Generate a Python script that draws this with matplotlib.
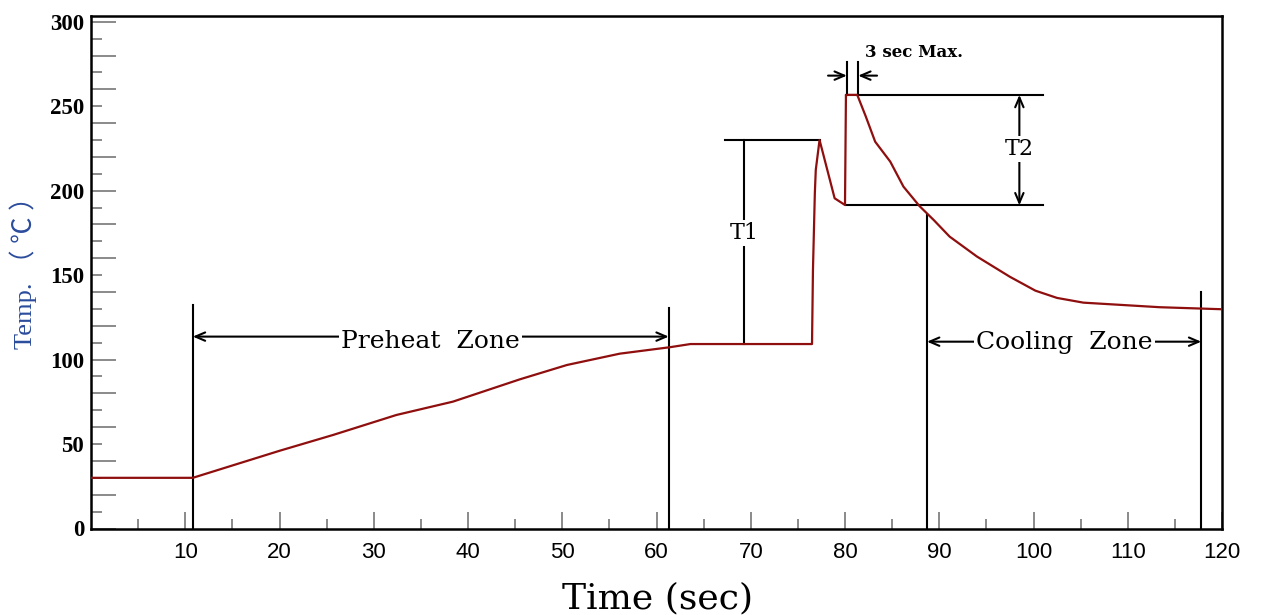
import matplotlib.pyplot as plt

# reflow profile (time in sec, temp in deg C)
time_s = [0, 10.8, 20.0, 25.7, 32.4, 38.4, 45.5, 50.5, 56.1, 61.4, 63.6,
          76.5, 76.6, 76.8, 76.9, 77.3, 78.4, 78.9, 80.0, 80.1, 81.3,
          82.2, 83.2, 84.8, 86.2, 87.9, 89.4, 91.1, 94.0, 97.5,
          100.2, 102.5, 105.3, 113.4, 120]
temp_c = [30, 30, 46, 55.4, 67.2, 75.1, 88.3, 96.8, 103.5, 107.3, 109.2,
          109.2, 153, 198.5, 212.3, 230, 206.3, 195.5, 191.5, 256.7, 256.7,
          244, 229, 217.2, 202.4, 190.9, 182.7, 172.8, 161, 149,
          140.8, 136.5, 133.7, 131, 129.8]

x_ticks = list(range(10, 121, 10))
x_minor = list(range(5, 120, 10))
y_labels = list(range(0, 301, 50))
y_long = list(range(0, 301, 20))
y_short = list(range(10, 301, 20))

# annotation positions (data units)
preheat = (10.8, 61.3)
preheat_tops = (132.3, 130.4)
preheat_arrow = 113.6
cooling = (88.7, 117.8)
cooling_tops = (185.6, 140.2)
cooling_arrow = 110.6
t1_x, t1_span, t1_top, t1_base, t1_text = 69.3, (67.3, 77.3), 230, 109.2, 175
t2_x, t2_span, t2_top, t2_low, t2_text = 98.5, (80.1, 101.0), 256.7, 191.3, 224.5
peak = (80.2, 81.4)
peak_top, peak_arrow, peak_tails = 276.4, 268.1, (78.2, 83.4)

CURVE = '#8f0e0e'
TICK = '#777777'

fig = plt.figure(figsize=(12.64, 6.15), dpi=100)
ax = fig.add_axes([91 / 1264, 1 - 528.5 / 615, (1222 - 91) / 1264, (528.5 - 16) / 615])
ax.set_xlim(0, 120)
ax.set_ylim(0, 303.4)

ax.plot(time_s, temp_c, color=CURVE, lw=1.6, zorder=3)


def vline(x, y0, y1):
    ax.plot([x, x], [y0, y1], color='k', lw=1.5, zorder=2)


def hline(y, x0, x1):
    ax.plot([x0, x1], [y, y], color='k', lw=1.5, zorder=2)


def arrow(x0, y0, x1, y1, style='<->'):
    ax.annotate('', xy=(x1, y1), xytext=(x0, y0),
                arrowprops=dict(arrowstyle=style + ',head_length=0.7,head_width=0.3',
                                color='k', lw=1.5, shrinkA=0, shrinkB=0))


def label(x, y, s, size=18):
    ax.text(x, y, s, ha='center', va='center', fontsize=size, family='DejaVu Serif',
            bbox=dict(facecolor='white', edgecolor='none', pad=1.5), zorder=4)


# preheat zone
vline(preheat[0], 0, preheat_tops[0])
vline(preheat[1], 0, preheat_tops[1])
arrow(preheat[0], preheat_arrow, preheat[1], preheat_arrow)
label(sum(preheat) / 2, preheat_arrow - 3, 'Preheat  Zone')

# cooling zone
vline(cooling[0], 0, cooling_tops[0])
vline(cooling[1], 0, cooling_tops[1])
arrow(cooling[0], cooling_arrow, cooling[1], cooling_arrow)
label(103.3, cooling_arrow - 0.5, 'Cooling  Zone')

# T1
hline(t1_top, *t1_span)
vline(t1_x, t1_base, t1_top)
label(t1_x, t1_text, 'T1', size=16)

# T2
hline(t2_top, *t2_span)
hline(t2_low, *t2_span)
arrow(t2_x, t2_low, t2_x, t2_top)
label(t2_x, t2_text, 'T2', size=16)

# 3 sec max
vline(peak[0], t2_top, peak_top)
vline(peak[1], t2_top, peak_top)
arrow(peak_tails[0], peak_arrow, peak[0], peak_arrow, style='->')
arrow(peak_tails[1], peak_arrow, peak[1], peak_arrow, style='->')
ax.text(82.1, 281.7, '3 sec Max.', ha='left', va='center', fontsize=12,
        family='DejaVu Serif', fontweight='bold')

# axes styling
for sp in ax.spines.values():
    sp.set_linewidth(1.8)

ax.set_xticks(x_ticks)
ax.set_xticklabels([str(v) for v in x_ticks], family='Liberation Sans', fontsize=16)
ax.set_xticks(x_minor, minor=True)
ax.tick_params(axis='x', which='major', direction='in', length=12, width=1.2, color=TICK, pad=10)
ax.tick_params(axis='x', which='minor', direction='in', length=7, width=1.2, color=TICK)

ax.set_yticks(y_long)
ax.set_yticks(y_short, minor=True)
ax.tick_params(axis='y', which='major', direction='in', length=18, width=1.2, color=TICK,
               labelleft=False)
ax.tick_params(axis='y', which='minor', direction='in', length=8, width=1.2, color=TICK)

sec = ax.secondary_yaxis('left')
sec.set_yticks(y_labels)
sec.set_yticklabels([str(v) for v in y_labels], family='Liberation Serif',
                    fontweight='bold', fontsize=16.5)
sec.tick_params(length=0, pad=5)
sec.spines['left'].set_visible(False)

fig.text(23 / 1264, 1 - 266 / 615, 'Temp. （ ℃ ）', rotation=90, ha='center', va='center',
         fontsize=19, color='#2b4c9b', family=['Liberation Serif', 'Noto Sans CJK SC'])
fig.text(658 / 1264, 1 - 598 / 615, 'Time (sec)', ha='center', va='center',
         fontsize=26, family='DejaVu Serif')

fig.savefig('out.png', dpi=100)
